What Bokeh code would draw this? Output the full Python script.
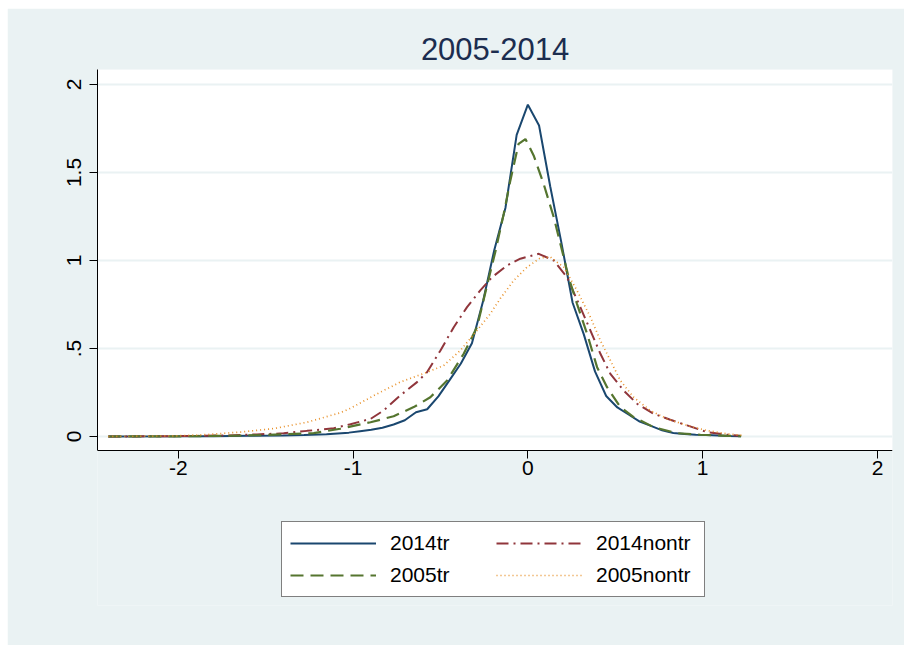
from bokeh.plotting import figure
from bokeh.models import Range1d, FixedTicker, Legend, LegendItem, BoxAnnotation
from bokeh.embed import file_html
from bokeh.resources import INLINE

# ---- data (kernel density curves) ----
x_2014tr = [-2.40, -2.0, -1.8, -1.6, -1.4, -1.28, -1.152, -1.024, -0.96, -0.896, -0.832,
            -0.768, -0.704, -0.64, -0.576, -0.512, -0.448, -0.384, -0.32, -0.256, -0.192,
            -0.128, -0.064, 0.0, 0.064, 0.128, 0.192, 0.256, 0.32, 0.384, 0.448, 0.512,
            0.576, 0.64, 0.704, 0.768, 0.832, 0.896, 0.96, 1.024, 1.088, 1.152, 1.22]
y_2014tr = [0.0, 0.001, 0.002, 0.004, 0.005, 0.008, 0.013, 0.022, 0.03, 0.038, 0.05,
            0.068, 0.092, 0.138, 0.155, 0.228, 0.32, 0.413, 0.53, 0.77, 1.06,
            1.30, 1.714, 1.885, 1.767, 1.42, 1.10, 0.76, 0.58, 0.37, 0.23, 0.165,
            0.125, 0.085, 0.06, 0.035, 0.02, 0.014, 0.01, 0.008, 0.005, 0.003, 0.002]

x_2005tr = [-2.4, -2.0, -1.8, -1.6, -1.4, -1.225, -1.073, -0.90, -0.768, -0.653, -0.558,
            -0.462, -0.367, -0.291, -0.233, -0.186, -0.138, -0.10, -0.053, -0.014, 0.033,
            0.09, 0.148, 0.205, 0.233, 0.281, 0.339, 0.396, 0.453, 0.529, 0.605, 0.72,
            0.853, 0.987, 1.14, 1.22]
y_2005tr = [0.0, 0.001, 0.003, 0.006, 0.012, 0.019, 0.044, 0.081, 0.115, 0.167, 0.223,
            0.318, 0.47, 0.621, 0.86, 1.05, 1.265, 1.455, 1.663, 1.69, 1.597,
            1.436, 1.246, 1.019, 0.905, 0.754, 0.583, 0.394, 0.28, 0.167, 0.11, 0.053,
            0.019, 0.01, 0.004, 0.002]

x_2014nontr = [-2.4, -2.0, -1.72, -1.55, -1.397, -1.263, -1.11, -1.015, -0.90, -0.825,
               -0.73, -0.634, -0.577, -0.50, -0.424, -0.348, -0.272, -0.205, -0.119,
               -0.043, 0.062, 0.148, 0.224, 0.30, 0.358, 0.415, 0.472, 0.548, 0.625,
               0.72, 0.815, 0.911, 1.025, 1.14, 1.216]
y_2014nontr = [0.0, 0.002, 0.006, 0.012, 0.018, 0.032, 0.047, 0.07, 0.1, 0.148,
               0.233, 0.309, 0.365, 0.489, 0.621, 0.735, 0.83, 0.905, 0.972,
               1.01, 1.038, 1.0, 0.905, 0.735, 0.602, 0.47, 0.356, 0.261, 0.186,
               0.129, 0.095, 0.063, 0.025, 0.01, 0.004]

x_2005nontr = [-2.4, -2.0, -1.835, -1.645, -1.454, -1.263, -1.073, -1.015, -0.863, -0.73,
               -0.577, -0.482, -0.386, -0.291, -0.215, -0.157, -0.081, -0.005, 0.072,
               0.129, 0.205, 0.281, 0.358, 0.415, 0.472, 0.529, 0.605, 0.70, 0.796,
               0.911, 1.025, 1.14, 1.235]
y_2005nontr = [0.0, 0.004, 0.011, 0.025, 0.045, 0.081, 0.135, 0.16, 0.242, 0.309,
               0.365, 0.403, 0.489, 0.602, 0.697, 0.785, 0.886, 0.962, 1.015,
               1.019, 0.962, 0.83, 0.678, 0.545, 0.432, 0.318, 0.223, 0.148, 0.1,
               0.063, 0.034, 0.015, 0.006]

x_ticks = [-2, -1, 0, 1, 2]
x_tick_labels = ["-2", "-1", "0", "1", "2"]
y_ticks = [0, 0.5, 1, 1.5, 2]
y_tick_labels = ["0", ".5", "1", "1.5", "2"]
title_text = "2005-2014"
series_names = ["2014tr", "2014nontr", "2005tr", "2005nontr"]

FONT = "Liberation Sans"
BG = "#EAF2F3"

X_MIN, X_MAX = -2.462, 2.086
Y_AX, Y_TOP = -0.0795, 2.085     # visible plot region (white)
Y_FRAME_MIN = -0.9601            # frame extends below to host the legend

p = figure(frame_width=795, frame_height=536, output_backend="svg", toolbar_location=None,
           x_range=Range1d(X_MIN, X_MAX), y_range=Range1d(Y_FRAME_MIN, Y_TOP),
           min_border_left=90, min_border_right=12, min_border_top=61,
           min_border_bottom=40, background_fill_color=BG,
           border_fill_color=BG)
p.margin = (8, 0, 0, 7)
p.outline_line_color = None

# white plot region
p.add_layout(BoxAnnotation(bottom=Y_AX, fill_color="white", fill_alpha=1,
                           line_color=None, level="image"))

p.title.text = title_text
p.title.align = "center"
p.title.text_font = FONT
p.title.text_font_size = "31px"
p.title.text_font_style = "normal"
p.title.text_color = "#1C2D4F"
p.title.standoff = 19

# axes
for ax in (p.xaxis[0], p.yaxis[0]):
    ax.axis_line_color = "black"
    ax.axis_line_width = 1
    ax.major_tick_line_color = "black"
    ax.major_tick_out = 8
    ax.major_tick_in = 0
    ax.minor_tick_line_color = None
    ax.major_label_text_font = FONT
    ax.major_label_text_font_size = "21px"
    ax.major_label_text_color = "black"

p.xaxis[0].ticker = FixedTicker(ticks=x_ticks)
p.xaxis[0].major_label_overrides = {t: l for t, l in zip(x_ticks, x_tick_labels)}
p.xaxis[0].major_label_standoff = 3
p.xaxis[0].fixed_location = Y_AX
p.yaxis[0].ticker = FixedTicker(ticks=y_ticks)
p.yaxis[0].major_label_overrides = {t: l for t, l in zip(y_ticks, y_tick_labels)}
p.yaxis[0].major_label_orientation = "vertical"
p.yaxis[0].major_label_standoff = 8
p.yaxis[0].bounds = (Y_AX, Y_TOP)

p.xgrid.grid_line_color = None
p.ygrid.grid_line_color = BG
p.ygrid.grid_line_width = 2

r1 = p.line(x_2014tr, y_2014tr, line_color="#1A476F", line_width=2)
r2 = p.line(x_2014nontr, y_2014nontr, line_color="#90353B", line_width=2,
            line_dash="12 5 2 5")
r3 = p.line(x_2005tr, y_2005tr, line_color="#55752F", line_width=2.2,
            line_dash="13 7")
r4 = p.line(x_2005nontr, y_2005nontr, line_color="#E8912A", line_width=1.7,
            line_dash="1 3")

legend = Legend(items=[
    LegendItem(label=series_names[0], renderers=[r1]),
    LegendItem(label=series_names[2], renderers=[r3]),
    LegendItem(label=series_names[1], renderers=[r2]),
    LegendItem(label=series_names[3], renderers=[r4]),
], orientation="vertical", ncols=2, location=(184, 8))
legend.label_text_font = FONT
legend.label_text_font_size = "21px"
legend.label_text_color = "black"
legend.glyph_width = 86
legend.glyph_height = 26
legend.label_standoff = 14
legend.label_width = 100
legend.spacing = 6
legend.padding = 8
legend.margin = 0
legend.border_line_color = "black"
legend.border_line_width = 1
legend.background_fill_color = "white"
legend.background_fill_alpha = 1
p.add_layout(legend, "center")

open("out.html", "w").write(file_html(p, INLINE))
